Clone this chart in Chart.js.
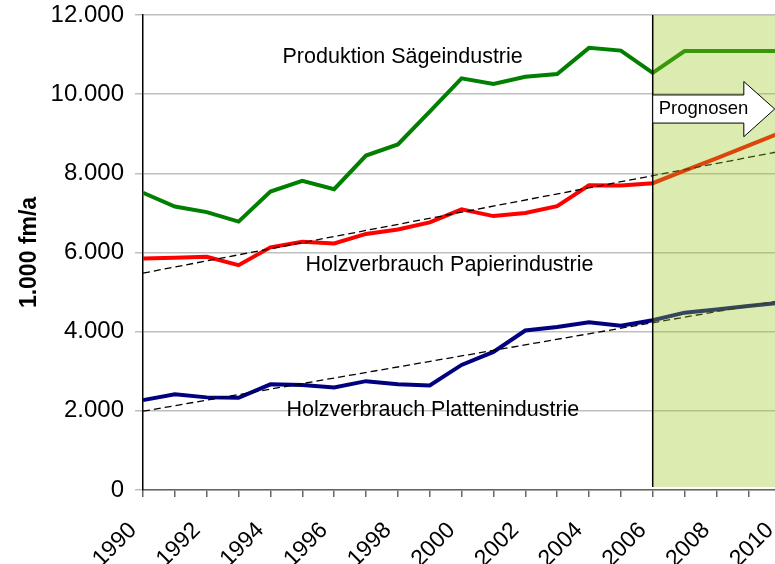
<!DOCTYPE html>
<html>
<head>
<meta charset="utf-8">
<script src="https://cdn.jsdelivr.net/npm/chart.js@4.4.0/dist/chart.umd.min.js"></script>
<style>
body { margin: 0; background: #fff; }
#wrap { width: 775px; height: 564px; overflow: hidden; }
</style>
</head>
<body>
<div id="wrap"><canvas id="myChart" width="830" height="564"></canvas></div>
<script>

var years = [1990, 1991, 1992, 1993, 1994, 1995, 1996, 1997, 1998, 1999, 2000,
             2001, 2002, 2003, 2004, 2005, 2006, 2007, 2008, 2009, 2010, 2011];

var saege   = [7510, 7160, 7020, 6780, 7540, 7810, 7600, 8450, 8730, 9560, 10400,
               10260, 10440, 10510, 11170, 11100, 10540, 11090, 11090, 11090, 11090, 11090];
var papier  = [5850, 5870, 5890, 5680, 6130, 6270, 6230, 6470, 6580, 6760, 7090,
               6920, 7000, 7170, 7700, 7690, 7750, 8070, 8380, 8700, 9020, 9340];
var platten = [2270, 2420, 2340, 2330, 2670, 2650, 2590, 2750, 2670, 2640, 3160,
               3490, 4030, 4120, 4240, 4150, 4290, 4480, 4560, 4650, 4730, 4810];

// trend lines: only the two end points
var trendPapier  = [5480, null, null, null, null, null, null, null, null, null, null,
                    null, null, null, null, null, null, null, null, null, null, 8710];
var trendPlatten = [1990, null, null, null, null, null, null, null, null, null, null,
                    null, null, null, null, null, null, null, null, null, null, 4925];

var yTicks = [0, 2000, 4000, 6000, 8000, 10000, 12000];

var prognoseStart = 2006;

var labelTexts  = ["Produktion Sägeindustrie", "Holzverbrauch Papierindustrie", "Holzverbrauch Plattenindustrie"];
var labelYears  = [1998.15, 1999.62, 1999.1];
var labelValues = [10800, 5540, 1870];

var FONT = '"Liberation Sans", Arial, sans-serif';

function fmt(v) {
  return String(v).replace(/\B(?=(\d{3})+(?!\d))/g, '.');
}

var prognose = {
  id: 'prognose',
  afterDatasetsDraw: function(chart) {
    var ctx = chart.ctx, a = chart.chartArea;
    var xs = chart.scales.x, ys = chart.scales.y;
    function px(yr) { return xs.getPixelForValue(yr - years[0]); }
    var x0 = px(prognoseStart);
    ctx.save();
    // shaded forecast area, laid over the lines
    ctx.fillStyle = 'rgba(155,200,30,0.35)';
    ctx.fillRect(x0, a.top, a.right - x0, a.bottom - a.top - 3);
    ctx.strokeStyle = '#000';
    ctx.lineWidth = 1.5;
    ctx.beginPath();
    ctx.moveTo(x0, a.top);
    ctx.lineTo(x0, a.bottom - 3);
    ctx.stroke();

    // series labels
    ctx.fillStyle = '#000';
    ctx.font = '21.5px ' + FONT;
    ctx.textAlign = 'center';
    ctx.textBaseline = 'alphabetic';
    for (var i = 0; i < labelTexts.length; i++) {
      ctx.fillText(labelTexts[i], px(labelYears[i]), ys.getPixelForValue(labelValues[i]));
    }

    // "Prognosen" arrow
    var bx = px(2008.86), tip = px(2009.83);
    ctx.beginPath();
    ctx.moveTo(x0, ys.getPixelForValue(9980));
    ctx.lineTo(bx, ys.getPixelForValue(9980));
    ctx.lineTo(bx, ys.getPixelForValue(10320));
    ctx.lineTo(tip, ys.getPixelForValue(9625));
    ctx.lineTo(bx, ys.getPixelForValue(8925));
    ctx.lineTo(bx, ys.getPixelForValue(9270));
    ctx.lineTo(x0, ys.getPixelForValue(9270));
    ctx.closePath();
    ctx.fillStyle = '#fff';
    ctx.fill();
    ctx.lineWidth = 1;
    ctx.strokeStyle = '#000';
    ctx.stroke();
    ctx.fillStyle = '#000';
    ctx.font = '18.5px ' + FONT;
    ctx.textAlign = 'left';
    ctx.fillText('Prognosen', px(2006.19), ys.getPixelForValue(9500));
    ctx.restore();
  }
};

new Chart('myChart', {
  type: 'line',
  data: {
    labels: years,
    datasets: [
      { data: trendPapier, borderColor: '#000', borderWidth: 1.3, borderDash: [7, 4], spanGaps: true, pointRadius: 0 },
      { data: trendPlatten, borderColor: '#000', borderWidth: 1.3, borderDash: [7, 4], spanGaps: true, pointRadius: 0 },
      { data: saege, borderColor: '#007f00', borderWidth: 4, pointRadius: 0 },
      { data: papier, borderColor: '#ff0000', borderWidth: 4, pointRadius: 0 },
      { data: platten, borderColor: '#000080', borderWidth: 4, pointRadius: 0 }
    ]
  },
  options: {
    responsive: false,
    animation: false,
    events: [],
    layout: { padding: { top: 15, right: 18, bottom: 0, left: 0 } },
    plugins: { legend: { display: false }, tooltip: { enabled: false } },
    scales: {
      x: {
        offset: false,
        afterFit: function(s) { s.height = 74; s.paddingLeft = 0; s.paddingRight = 0; },
        border: { color: '#666', width: 1.5 },
        grid: { drawOnChartArea: false, drawTicks: true, tickLength: 7, color: '#666', lineWidth: 1.5 },
        ticks: {
          autoSkip: false,
          maxRotation: 45,
          minRotation: 45,
          padding: 20,
          labelOffset: -10,
          color: '#000',
          font: { family: FONT, size: 23 },
          callback: function(v, i) {
            var yr = years[i];
            return (yr % 2 === 0 && yr <= 2010) ? String(yr) : '';
          }
        }
      },
      y: {
        min: 0,
        max: 12000,
        afterFit: function(s) { s.width = 143; s.paddingTop = 0; s.paddingBottom = 0; },
        afterBuildTicks: function(s) { s.ticks = yTicks.map(function(v) { return { value: v }; }); },
        border: { color: '#000', width: 1.5 },
        grid: { color: '#bfbfbf', lineWidth: 1.5, tickLength: 8 },
        ticks: {
          padding: 11,
          color: '#000',
          font: { family: FONT, size: 24 },
          callback: function(v) { return fmt(v); }
        },
        title: {
          display: true,
          text: '1.000 fm/a',
          color: '#000',
          padding: { top: 16, bottom: 0 },
          font: { family: FONT, size: 23, weight: 'bold' }
        }
      }
    }
  },
  plugins: [prognose]
});
</script>
</body>
</html>
